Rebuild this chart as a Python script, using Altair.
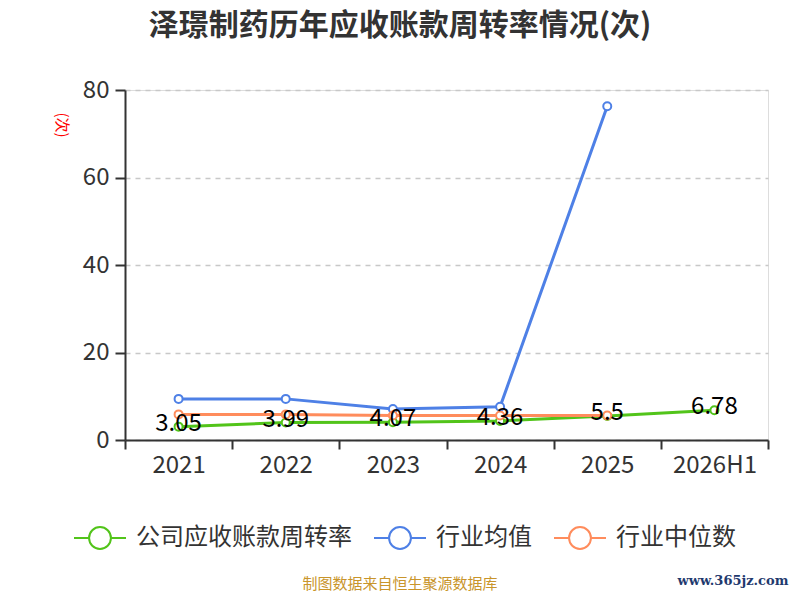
import altair as alt
import pandas as pd

years = ["2021", "2022", "2023", "2024", "2025", "2026H1"]
series_names = ["公司应收账款周转率", "行业均值", "行业中位数"]
company = [3.05, 3.99, 4.07, 4.36, 5.5, 6.78]
industry_avg = [9.4, 9.4, 7.1, 7.6, 76.3, None]
industry_median = [5.85, 5.85, 5.6, 5.6, 5.6, None]
colors = ["#52C41A", "#4E80E6", "#FF8C5C"]

title_text = "泽璟制药历年应收账款周转率情况(次)"
unit_text = "(次)"
source_text = "制图数据来自恒生聚源数据库"
site_text = "www.365jz.com"

rows = []
for name, vals in zip(series_names, [company, industry_avg, industry_median]):
    for y, v in zip(years, vals):
        if v is not None:
            rows.append({"year": y, "series": name, "value": v,
                         "label": (f"{v:g}" if name == series_names[0] else "")})
df = pd.DataFrame(rows)
df_company = df[df["series"] == series_names[0]]

FONT = "Noto Sans CJK SC"
W, H = 643, 350

legend_path = "M-1,0L-0.42,0A0.42,0.42,0,1,1,0.42,0A0.42,0.42,0,1,1,-0.42,0M0.42,0L1,0"
legend = alt.Legend(
    title=None, orient="none", direction="horizontal",
    legendX=-52, legendY=421,
    symbolType=legend_path, symbolSize=2704, symbolStrokeWidth=2,
    symbolFillColor="white",
    labelFont=FONT, labelFontSize=24, labelColor="#333333", labelLimit=500,
    labelOffset=9, columnPadding=18,
)

color = alt.Color("series:N", scale=alt.Scale(domain=series_names, range=colors),
                  legend=legend)

x = alt.X("year:N", sort=years,
          scale=alt.Scale(type="band", paddingInner=0, paddingOuter=0),
          axis=alt.Axis(title=None, labelAngle=0, tickBand="extent",
                        labelFont=FONT, labelFontSize=24, labelColor="#333333",
                        domainColor="#333333", domainWidth=2, tickColor="#333333",
                        tickWidth=2, tickSize=9, labelPadding=4, grid=False))
y = alt.Y("value:Q", scale=alt.Scale(domain=[0, 80], nice=False),
          axis=alt.Axis(title=None, values=[0, 20, 40, 60, 80],
                        labelFont=FONT, labelFontSize=24, labelColor="#333333",
                        domainColor="#333333", domainWidth=2, tickColor="#333333",
                        tickWidth=2, tickSize=10, labelPadding=6,
                        grid=True, gridColor="#C8C8C8", gridDash=[5, 5], gridWidth=1.5))

base = alt.Chart(df)
lines = base.mark_line(strokeWidth=3).encode(x=x, y=y, color=color,
                                             order=alt.Order("series:N"))
points = base.mark_point(filled=True, fill="white", size=64, strokeWidth=2, opacity=1).encode(
    x=x, y=y, stroke=alt.Stroke("series:N", scale=alt.Scale(domain=series_names, range=colors),
                                legend=None))
labels = alt.Chart(df_company).mark_text(
    font=FONT, fontSize=24, color="#000000", baseline="middle", align="center", dy=-3
).encode(x=x, y=y, text="label:N")


def free_text(txt, xv, yv, **kw):
    return alt.Chart(pd.DataFrame({"t": [txt]})).mark_text(**kw).encode(
        text="t:N", x=alt.value(xv), y=alt.value(yv))


title = free_text(title_text, 275, -64, font=FONT, fontSize=30, fontWeight="bold",
                  color="#333333", align="center", baseline="middle")
unit = free_text(unit_text, -63, 35, font=FONT, fontSize=15, color="#FF0000",
                 align="center", baseline="middle", angle=90)
source = free_text(source_text, 275, 494, font=FONT, fontSize=15, color="#C9952B",
                   align="center", baseline="middle")
site = free_text(site_text, 608, 491, font="DejaVu Serif", fontSize=13, fontWeight="bold",
                 color="#1F3A6E", align="center", baseline="middle")

chart = alt.layer(lines, points, labels, title, unit, source, site).properties(
    width=W, height=H,
    autosize=alt.AutoSizeParams(type="none"),
    padding={"left": 117, "top": 82, "right": 24, "bottom": 152},
).configure_view(stroke=None).configure(background="white")

chart.save("out.html", embed_options={"renderer": "svg", "actions": False})
